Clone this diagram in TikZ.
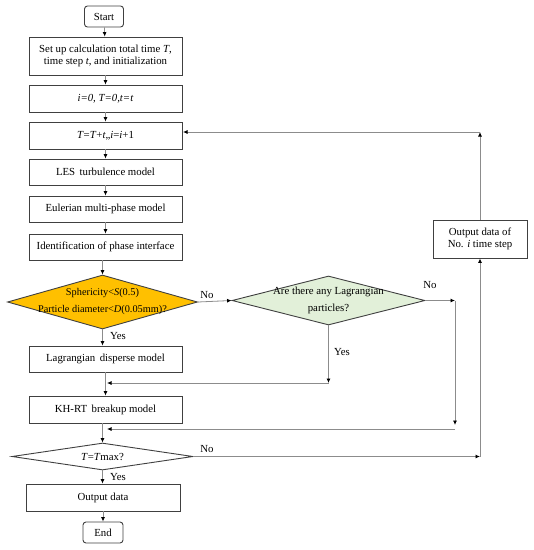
\documentclass[tikz,border=0pt]{standalone}
\usepackage{fontspec}
\setmainfont{Liberation Serif}
\usetikzlibrary{shapes.geometric,arrows.meta}
\definecolor{bord}{HTML}{404040}
\definecolor{conn}{HTML}{8C8C8C}
\definecolor{gold}{HTML}{FFC000}
\definecolor{lgreen}{HTML}{E2F0D9}
\tikzset{
  box/.style={draw=bord, line width=0.9pt, fill=white, rectangle, inner sep=0pt,
    minimum width=153pt, minimum height=26pt, align=center,
    font=\fontsize{10.8}{12.5}\selectfont},
  term/.style={box, rounded corners=3pt, minimum width=39pt, minimum height=21pt},
  dia/.style={draw=bord, line width=0.9pt, diamond, inner sep=0pt},
  dtext/.style={align=center, inner sep=0pt, font=\fontsize{10.8}{17}\selectfont},
  lab/.style={inner sep=0pt, font=\fontsize{10.8}{12}\selectfont},
  arr/.style={draw=conn, line width=0.8pt, -{Latex[length=4.5pt,width=4pt,color=black]}},
}
\begin{document}
\begin{tikzpicture}[x=1pt,y=-1pt]
\useasboundingbox (0,0) rectangle (534,550);
% main column
\node[term] (start) at (104,16.5) {Start};
\node[box, minimum height=38pt] (b1) at (105.5,56) {Set up calculation total time \textit{T},\\time step \textit{t}, and initialization};
\node[box, minimum height=27pt] (b2) at (105.5,98.5) {\textit{i=0, T=0,t=t}};
\node[box, minimum height=27pt] (b3) at (105.5,135.5) {\textit{T}=\textit{T}+\textit{t},,\textit{i}=\textit{i}+1};
\node[box] (b4) at (105.5,172) {LES\, turbulence model};
\node[box] (b5) at (105.5,209) {Eulerian multi-phase model};
\node[box] (b6) at (105.5,247) {Identification of phase interface};
\node[dia, fill=gold, minimum width=190pt, minimum height=54pt] (d1) at (102.5,302) {};
\node[dtext, font=\fontsize{10.3}{17}\selectfont] (d1t) at (d1.center) {Sphericity<\textit{S}(0.5)\\Particle diameter<\textit{D}(0.05mm)?};
\node[box] (b7) at (105.5,359) {Lagrangian\, disperse model};
\node[box, minimum height=27pt] (b8) at (105.5,409.5) {KH-RT\, breakup model};
\node[dia, fill=white, minimum width=181pt, minimum height=27pt] (d2) at (102.5,456.5) {};
\node[dtext] (d2t) at (d2.center) {\textit{T}=\textit{T}max?};
\node[box, minimum width=154pt, minimum height=27pt] (b9) at (103,497.5) {Output data};
\node[term, minimum width=40pt] (end) at (103,532.5) {End};
% right side
\node[dia, fill=lgreen, minimum width=193pt, minimum height=49pt] (g) at (328.5,300.5) {};
\node[dtext] (gt) at (g.center) {Are there any Lagrangian\\particles?};
\node[box, minimum width=94pt, minimum height=38pt] (o) at (480,239) {Output data of\\No. \textit{i} time step};
% coordinates
\coordinate (m1) at (107,383);
\coordinate (c1) at (328.5,383);
\coordinate (c2) at (455,300.5);
\coordinate (c3) at (455,425);
\coordinate (c3b) at (455,429);
\coordinate (m2) at (107,429);
\coordinate (c4) at (480,456.5);
\coordinate (c5) at (480,132);
\coordinate (c6) at (183,132);
% main flow
\draw[arr] (start) -- (b1);
\draw[arr] (b1) -- (b2);
\draw[arr] (b2) -- (b3);
\draw[arr] (b3) -- (b4);
\draw[arr] (b4) -- (b5);
\draw[arr] (b5) -- (b6);
\draw[arr] (b6.south -| d1.north) -- (d1.north);
\draw[arr] (d1.south) -- (d1.south |- b7.north);
\draw[arr] (b7.south -| b8.north) -- (b8.north);
\draw[arr] (b8.south -| d2.north) -- (d2.north);
\draw[arr] (d2.south) -- (d2.south |- b9.north);
\draw[arr] (b9.south -| end.north) -- (end.north);
\node[lab] (y1) at (118,336) {Yes};
\node[lab] (y3) at (118,477) {Yes};
% branch to green diamond
\draw[arr] (d1.east) -- (g.west);
\node[lab] (n1) at (207,295) {No};
\draw[arr] (g.south) -- (c1);
\node[lab] (y2) at (342,352) {Yes};
\draw[arr] (c1) -- (m1);
\draw[arr] (g.east) -- (c2);
\node[lab] (n2) at (430,285) {No};
\draw[arr] (c2) -- (c3);
\draw[arr] (c3b) -- (m2);
% loop back
\draw[arr] (d2.east) -- (c4);
\node[lab] (n3) at (207,449) {No};
\draw[arr] (c4) -- (o.south);
\draw[arr] (o.north) -- (c5);
\draw[arr] (c5) -- (c6);
\end{tikzpicture}
\end{document}
